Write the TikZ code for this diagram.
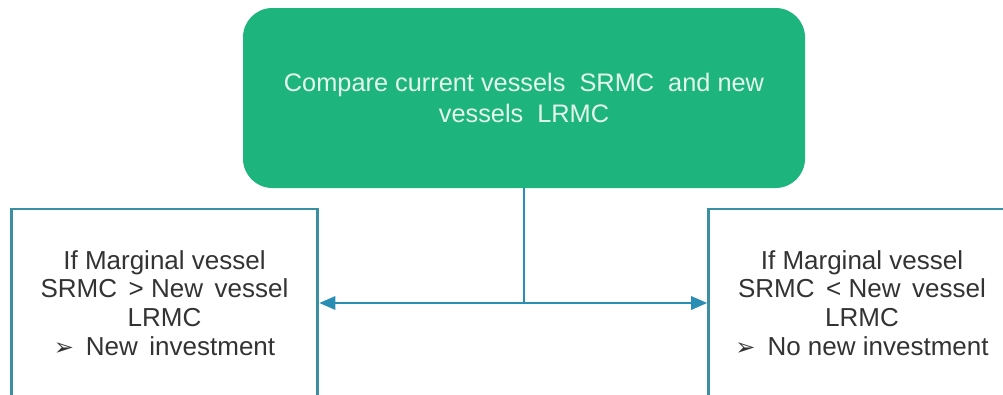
\documentclass[tikz,border=0pt]{standalone}
\usepackage{fontspec}
\setmainfont{Liberation Sans}
\newfontfamily\dingfont{DejaVu Sans}
\usetikzlibrary{arrows.meta}

\definecolor{boxgreen}{HTML}{1DB57D}
\definecolor{mint}{HTML}{E3F7EE}
\definecolor{frameteal}{HTML}{3A8FA2}
\definecolor{arrowblue}{HTML}{2A8DB3}
\definecolor{textgray}{HTML}{333333}

\newcommand{\pointer}{{\dingfont\fontsize{18}{18}\selectfont ➢}\hspace{9pt}}

\begin{document}
\begin{tikzpicture}[x=0.75pt,y=-0.75pt,>={Triangle[length=12pt,width=10pt]},
  decision/.style={rectangle, rounded corners=22pt, fill=boxgreen, text=mint,
    minimum width=421.5pt, minimum height=135pt, align=center,
    font=\fontsize{19}{23.5}\selectfont},
  outcome/.style={rectangle, draw=frameteal, line width=2.2pt, fill=white,
    text=textgray, minimum width=230pt, minimum height=141pt, align=center,
    font=\fontsize{19.5}{21.5}\selectfont},
  link/.style={color=arrowblue, line width=1.5pt}]

  \useasboundingbox (0,0) rectangle (1003,394);
  \clip (0,0) rectangle (1003,394);

% define the boxes
  \node[decision] (compare) at (524,98)
    {Compare current vessels\ \ SRMC\ \ and new\\vessels\ \ LRMC};
  \node[outcome] (invest) at (164.5,303)
    {If Marginal vessel\\SRMC\,\ > New\,\ vessel\\LRMC\\\pointer New\,\ investment};
  \node[outcome] (noinvest) at (862,303)
    {If Marginal vessel\\SRMC\,\ < New\,\ vessel\\LRMC\\\pointer No new investment};
  \coordinate (split) at (524,303);

% define the links
  \draw[link] (compare) -- (split);
  \path (split) edge[link, ->] (invest)
                edge[link, ->] (noinvest);

\end{tikzpicture}
\end{document}
